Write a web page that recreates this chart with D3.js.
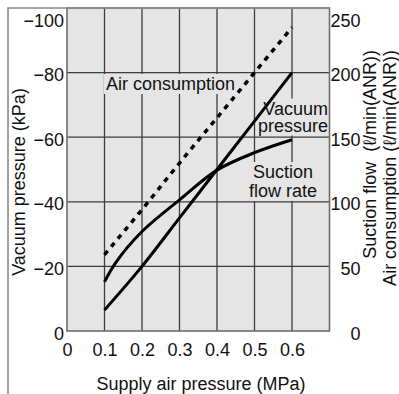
<!DOCTYPE html>
<html>
<head>
<meta charset="utf-8">
<script src="https://cdn.jsdelivr.net/npm/d3@7"></script>
<style>
body { margin: 0; background: #fff; }
svg { display: block; font-family: "Liberation Sans", Arial, sans-serif; }
</style>
</head>
<body>
<svg id="viz" width="399" height="394"></svg>
<script>
// values
var pressure = [0.1, 0.2, 0.3, 0.4, 0.5, 0.6];
var vacuumPressure = [-6.5, -20, -35, -50, -65, -80];
var suctionPressure = [0.1, 0.13, 0.2, 0.3, 0.4, 0.5, 0.6];
var suctionFlow = [38, 53, 77, 101.5, 124.5, 138, 148];
var airConsumption = [59, 94, 130, 165, 200, 235];

var xTicks = [0, 0.1, 0.2, 0.3, 0.4, 0.5, 0.6];
var vacuumTicks = [0, -20, -40, -60, -80, -100];
var flowTicks = [0, 50, 100, 150, 200, 250];

// plot box (note: "top" is taken by window.top)
var plotL = 67, plotR = 329.5, plotT = 8, plotB = 331;
var plotFill = "#e5e5e5";

var svg = d3.select("#viz");

var x = d3.scaleLinear().domain([0, 0.7]).range([plotL, plotR]);
var yVac = d3.scaleLinear().domain([0, -100]).range([plotB, plotT]);
var yFlow = d3.scaleLinear().domain([0, 250]).range([plotB, plotT]);

// plot background
svg.append("rect")
    .attr("x", plotL).attr("y", plotT)
    .attr("width", plotR - plotL).attr("height", plotB - plotT)
    .attr("fill", plotFill);

// grid
var grid = svg.append("g").attr("stroke", "#3c3c3c").attr("stroke-width", 1.3);
grid.selectAll("line.v")
    .data(xTicks.filter(function (d) { return d > 0; }))
    .enter().append("line")
    .attr("class", "v")
    .attr("x1", function (d) { return x(d); }).attr("x2", function (d) { return x(d); })
    .attr("y1", plotT).attr("y2", plotB);
grid.selectAll("line.h")
    .data(vacuumTicks.filter(function (d) { return d < 0 && d > -100; }))
    .enter().append("line")
    .attr("class", "h")
    .attr("x1", plotL).attr("x2", plotR)
    .attr("y1", function (d) { return yVac(d); }).attr("y2", function (d) { return yVac(d); });

// label boxes knock out the grid behind the texts
var boxes = svg.append("g");

// curves
var line = d3.line().curve(d3.curveMonotoneX);
var smooth = d3.line().curve(d3.curveCatmullRom.alpha(0.5));
var curves = svg.append("g").attr("fill", "none").attr("stroke", "#000");

curves.append("path")
    .attr("d", line(pressure.map(function (p, i) { return [x(p), yFlow(airConsumption[i])]; })))
    .attr("stroke-width", 3.5)
    .attr("stroke-dasharray", "5,5.5");

curves.append("path")
    .attr("d", line(pressure.map(function (p, i) { return [x(p), yVac(vacuumPressure[i])]; })))
    .attr("stroke-width", 3);

curves.append("path")
    .attr("d", smooth(suctionPressure.map(function (p, i) { return [x(p), yFlow(suctionFlow[i])]; })))
    .attr("stroke-width", 3);

var labels = svg.append("g").attr("font-size", 18).attr("fill", "#111");

function addLabel(lines, lx, ly, anchor, lh) {
    var t = labels.append("text").attr("text-anchor", anchor);
    lines.forEach(function (s, i) {
        t.append("tspan").attr("x", lx).attr("y", ly + i * lh).text(s);
    });
    var b = t.node().getBBox();
    boxes.append("rect")
        .attr("x", b.x - 2).attr("y", b.y)
        .attr("width", b.width + 4).attr("height", b.height)
        .attr("fill", plotFill);
}

addLabel(["Air consumption"], 106, 90, "start", 0);
addLabel(["Vacuum", "pressure"], 328, 114.5, "end", 17);
addLabel(["Suction", "flow rate"], 283, 178, "middle", 19);

// plot border and frame
svg.append("rect")
    .attr("x", plotL).attr("y", plotT)
    .attr("width", plotR - plotL).attr("height", plotB - plotT)
    .attr("fill", "none").attr("stroke", "#6e6e6e").attr("stroke-width", 1.6);
svg.append("path")
    .attr("d", "M8,394V" + plotT + "H" + plotR)
    .attr("fill", "none").attr("stroke", "#8a8a8a").attr("stroke-width", 1.6);

// axes
function styleAxis(g) {
    g.select(".domain").remove();
    g.selectAll("text").attr("font-size", 18).attr("fill", "#111")
        .attr("font-family", "Liberation Sans, Arial, sans-serif");
}

svg.append("g")
    .attr("transform", "translate(" + plotL + ",0)")
    .call(d3.axisLeft(yVac).tickValues(vacuumTicks).tickSize(0).tickPadding(3))
    .call(styleAxis)
    .selectAll("text")
    .attr("dy", function (d) { return d === -100 ? "1.05em" : "0.45em"; });

svg.append("g")
    .attr("transform", "translate(" + plotR + ",0)")
    .call(d3.axisRight(yFlow).tickValues(flowTicks).tickSize(0).tickPadding(31))
    .call(styleAxis)
    .selectAll("text")
    .attr("text-anchor", "end")
    .attr("dy", function (d) { return d === 250 ? "1.05em" : "0.45em"; });

svg.append("g")
    .attr("transform", "translate(0," + plotB + ")")
    .call(d3.axisBottom(x).tickValues(xTicks).tickSize(0).tickPadding(12)
        .tickFormat(function (d) { return d === 0 ? "0" : d3.format(".1f")(d); }))
    .call(styleAxis);

// titles
var titles = svg.append("g").attr("font-size", 18).attr("fill", "#111");
titles.append("text")
    .attr("transform", "translate(25,182) rotate(-90)")
    .attr("text-anchor", "middle")
    .text("Vacuum pressure (kPa)");
titles.append("text")
    .attr("x", 201).attr("y", 390)
    .attr("text-anchor", "middle")
    .text("Supply air pressure (MPa)");
titles.append("text")
    .attr("transform", "translate(376,50) rotate(-90)")
    .attr("text-anchor", "end")
    .text("Suction flow\u00a0\u00a0(\u2113/min(ANR))");
titles.append("text")
    .attr("transform", "translate(396,50) rotate(-90)")
    .attr("text-anchor", "end")
    .text("Air consumption (\u2113/min(ANR))");
</script>
</body>
</html>
